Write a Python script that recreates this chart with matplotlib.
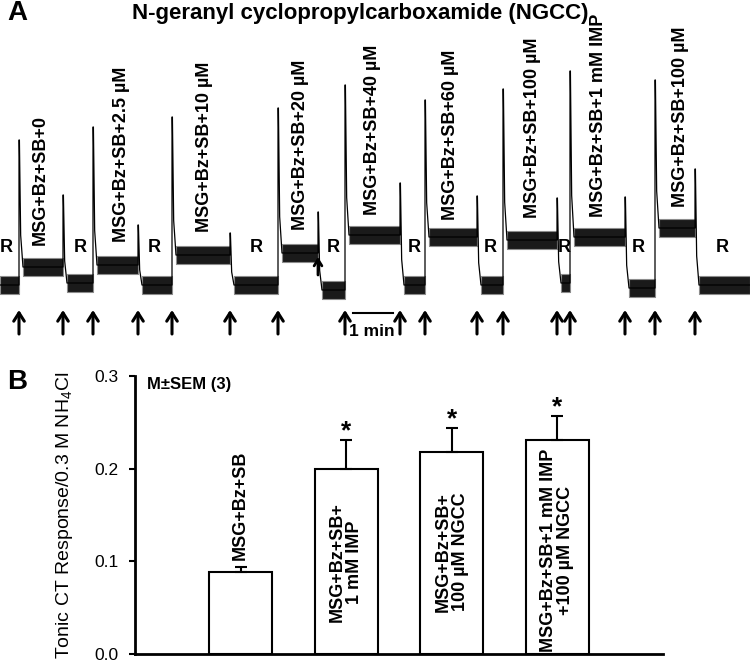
import matplotlib
matplotlib.use("Agg")
from matplotlib import pyplot as plt

plt.rcParams['font.family'] = ['Liberation Sans', 'DejaVu Sans']
plt.rcParams['mathtext.default'] = 'regular'

# ---- panel A: chorda tympani trace (time in s, response in arbitrary units)
seg_start = [0, 28.5, 94.5, 139.5, 207, 258, 345, 417, 477, 517.5, 600, 637.5,
             715.5, 754.5, 835.5, 855, 937.5, 982.5, 1042.5]
seg_level = [0.0, 0.18, 0.02, 0.20, 0.0, 0.30, 0.0, 0.32, -0.05, 0.50, 0.0, 0.48,
             0.0, 0.45, 0.02, 0.48, -0.03, 0.57, 0.0]
spike_peak = [None, 1.45, 0.90, 1.58, 0.60, 1.68, 0.52, 1.77, 0.73, 2.00, 1.02, 1.85,
              0.89, 1.96, 0.87, 2.14, 0.88, 2.05, 1.16]
t_end = 1125
noise = 0.09

arrow_t = [28.5, 94.5, 139.5, 207, 258, 345, 417, 517.5, 600, 637.5, 715.5, 754.5,
           835.5, 855, 937.5, 982.5, 1042.5]

stim_labels = ["MSG+Bz+SB+0", "MSG+Bz+SB+2.5 \u00b5M", "MSG+Bz+SB+10 \u00b5M",
               "MSG+Bz+SB+20 \u00b5M", "MSG+Bz+SB+40 \u00b5M", "MSG+Bz+SB+60 \u00b5M",
               "MSG+Bz+SB+100 \u00b5M", "MSG+Bz+SB+1 mM IMP", "MSG+Bz+SB+100 \u00b5M"]
stim_label_t = [61, 183, 307, 450, 558, 675, 798, 897, 1020]
stim_label_y = [0.40, 0.43, 0.53, 0.55, 0.70, 0.65, 0.67, 0.68, 0.78]
rinse_t = [10, 120, 232, 385, 500, 622, 735, 847, 957, 1083]
rinse_y = 0.37

# ---- panel B: tonic responses
bar_labels = ["MSG+Bz+SB", "MSG+Bz+SB+\n1 mM IMP", "MSG+Bz+SB+\n100 \u00b5M NGCC",
              "MSG+Bz+SB+1 mM IMP\n+100 \u00b5M NGCC"]
bar_mean = [0.088, 0.200, 0.218, 0.231]
bar_sem = [0.006, 0.031, 0.026, 0.026]
bar_sig = [False, True, True, True]

fig = plt.figure(figsize=(7.5, 6.61), dpi=100)

axA = fig.add_axes([0, 1 - 340 / 661, 1, 340 / 661])
axA.set_xlim(0, t_end)
axA.set_ylim(-0.55, 2.85)
axA.axis('off')

xs, ys = [], []
seg_end = seg_start[1:] + [t_end]
for i, (s, e, lev) in enumerate(zip(seg_start, seg_end, seg_level)):
    if i == 0:
        xs += [s]
        ys += [lev]
    else:
        pk = spike_peak[i]
        xs += [s, s + 0.6, s + 2.5, s + 6]
        ys += [pk, pk, lev + 0.25 * (pk - lev), lev]
    xs += [e]
    ys += [lev]
    a = s + (6 if i else 0)
    axA.fill_between([a, e], lev - noise, lev + noise, facecolor='0.1',
                     edgecolor='0.55', lw=0.8)
axA.plot(xs, ys, color='black', lw=0.9)

for t in arrow_t:
    axA.annotate('', xy=(t, -0.25), xytext=(t, -0.49),
                 arrowprops=dict(arrowstyle='->,head_length=0.6,head_width=0.38',
                                 lw=2.2, color='black', shrinkA=0, shrinkB=0))
axA.annotate('', xy=(477, 0.28), xytext=(477, 0.10),
             arrowprops=dict(arrowstyle='->,head_length=0.45,head_width=0.28',
                             lw=2, color='black', shrinkA=0, shrinkB=0))

for txt, t, y in zip(stim_labels, stim_label_t, stim_label_y):
    axA.text(t, y, txt, rotation=90, ha='center', va='bottom', fontsize=13,
             fontweight='bold')
for t in rinse_t:
    axA.text(t, rinse_y, 'R', ha='center', va='center', fontsize=13,
             fontweight='bold')

axA.plot([530, 590], [-0.28, -0.28], color='black', lw=1.5)
axA.text(558, -0.47, '1 min', ha='center', va='center', fontsize=12.5,
         fontweight='bold')

fig.text(0.481, 1 - 14 / 661, 'N-geranyl cyclopropylcarboxamide (NGCC)',
         ha='center', va='center', fontsize=16, fontweight='bold')
fig.text(7 / 750, 1 - 13 / 661, 'A', ha='left', va='center', fontsize=20,
         fontweight='bold')
fig.text(7 / 750, 1 - 382 / 661, 'B', ha='left', va='center', fontsize=20,
         fontweight='bold')

# ---- panel B axes
axB = fig.add_axes([135 / 750, 1 - 654 / 661, 528 / 750, 278 / 661])
pos = [1, 2, 3, 4]
axB.bar(pos, bar_mean, width=0.6, color='white', edgecolor='black', lw=1.5)
axB.errorbar(pos, bar_mean, yerr=[[0] * 4, bar_sem], fmt='none', ecolor='black',
             elinewidth=1.5, capsize=4, capthick=1.5)
axB.set_xlim(0, 5)
axB.set_ylim(0, 0.3)
axB.set_xticks([])
axB.set_yticks([0, 0.1, 0.2, 0.3])
axB.set_yticklabels(['0.0', '0.1', '0.2', '0.3'])
axB.tick_params(axis='y', direction='out', length=4, width=1.5, labelsize=12.5,
                pad=8)
for sp in ['top', 'right']:
    axB.spines[sp].set_visible(False)
for sp in ['left', 'bottom']:
    axB.spines[sp].set_linewidth(2)
axB.set_ylabel('Tonic CT Response/0.3 M NH$_4$Cl', fontsize=14)
axB.yaxis.set_label_coords(-0.114, 0.5)

axB.text(1, 0.101, bar_labels[0], rotation=90, ha='center', va='bottom',
         fontsize=13, fontweight='bold')
label_y = [None, 0.099, 0.110, 0.112]
for p, txt, y in zip(pos[1:], bar_labels[1:], label_y[1:]):
    axB.text(p, y, txt, rotation=90, ha='center', va='center', fontsize=13,
             fontweight='bold', multialignment='center', linespacing=1.0)
for p, m, e, sig in zip(pos, bar_mean, bar_sem, bar_sig):
    if sig:
        axB.text(p, m + e + 0.002, '*', ha='center', va='baseline', fontsize=19,
                 fontweight='bold')

axB.text(0.114, 0.291, 'M\u00b1SEM (3)', ha='left', va='center', fontsize=12,
         fontweight='bold')

fig.savefig('out.png', dpi=100)
